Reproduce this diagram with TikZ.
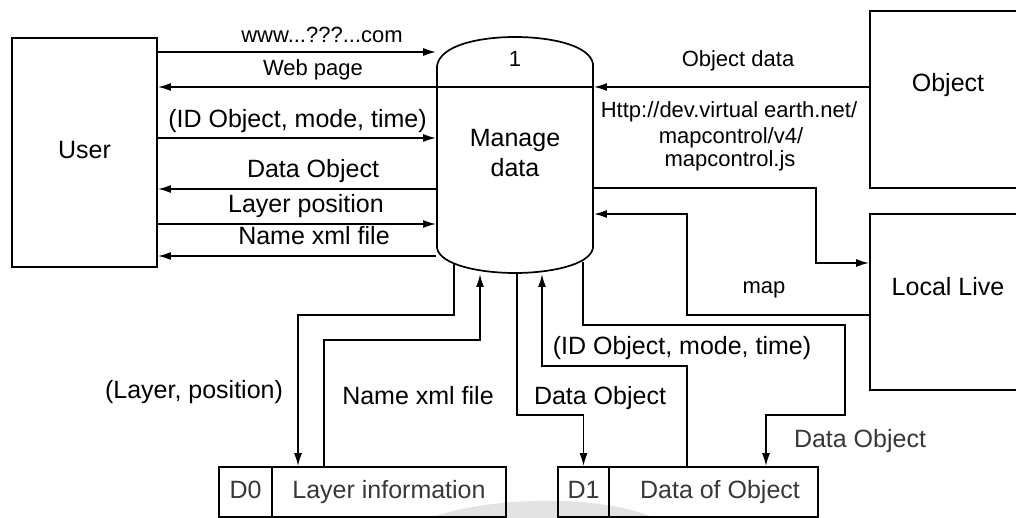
\documentclass[tikz,border=0pt]{standalone}
\usepackage{fontspec}
\setmainfont{Liberation Sans}
\usetikzlibrary{arrows.meta}
\begin{document}
\begin{tikzpicture}[x=1pt,y=-1pt,line width=1.7pt,
  >={Latex[length=13pt,width=8pt]},
  entity/.style={draw,inner sep=0pt},
  big/.style={font=\fontsize{25}{30}\selectfont},
  small/.style={font=\fontsize{22}{26}\selectfont},
  lbl/.style={inner sep=0pt,anchor=base},
  store/.style={text=black!78}]
\useasboundingbox (0,0) rectangle (1016,518);
\fill[white] (0,0) rectangle (1016,518);
% faint watermark arc
\fill[gray!22] (430,518) .. controls (490,496) and (600,494) .. (655,518) -- cycle;

% external entities
\node[entity,big,minimum width=145pt,minimum height=229pt,text height=18pt,text depth=6pt] (user) at (84.5,152.5) {User};
\node[entity,big,minimum width=156pt,minimum height=177pt,text height=18pt,text depth=33pt] (obj) at (948,99.5) {Object};
\node[entity,big,minimum width=156pt,minimum height=176pt,text height=18pt,text depth=32pt] (ll) at (948,302) {Local Live};

% process (cylinder)
\node[inner sep=0pt,minimum width=156pt,minimum height=236pt] (md) at (515,155) {};
\draw (437,248) -- (437,66) .. controls (440,45) and (480,37) .. (515,37)
  .. controls (550,37) and (590,45) .. (593,64) -- (593,248)
  .. controls (590,265) and (550,273) .. (515,273)
  .. controls (480,273) and (440,265) .. (437,248) -- cycle;
\draw (437,87) -- (593,87);
\node[small,lbl] (num) at (515,67) {1};
\node[big,lbl] (mdt1) at (515,147) {Manage};
\node[big,lbl] (mdt2) at (515,177) {data};

% data stores
\node[entity,big,store,minimum width=53pt,minimum height=50pt,text height=18pt,text depth=6pt] (d0id) at (245.5,492) {D0};
\node[entity,big,store,minimum width=234pt,minimum height=50pt,text height=18pt,text depth=6pt] (d0) at (389,492) {Layer information};
\node[entity,big,store,minimum width=51pt,minimum height=50pt,text height=18pt,text depth=6pt] (d1id) at (583.5,492) {D1};
\node[entity,big,store,minimum width=209pt,minimum height=50pt,text height=18pt,text depth=6pt] (d1) at (713.5,492) {\hspace*{13pt}Data of Object};

% rows on the left
\coordinate (r1) at (0,52);
\coordinate (r2) at (0,87);
\coordinate (r3) at (0,138);
\coordinate (r4) at (0,189);
\coordinate (r5) at (0,224);
\coordinate (r6) at (0,256);
\draw[->] (user.east |- r1) -- (md.west |- r1);
\draw[->] (md.west |- r2) -- (user.east |- r2);
\draw[->] (user.east |- r3) -- (md.west |- r3);
\draw[->] (md.west |- r4) -- (user.east |- r4);
\draw[->] (user.east |- r5) -- (md.west |- r5);
\draw[->] (md.west |- r6) -- (user.east |- r6);
\node[small,lbl] (l1) at (322,43) {www...???...com};
\node[small,lbl] (l2) at (313,76) {Web page};
\node[big,lbl] (l3) at (297.5,128) {(ID Object, mode, time)};
\node[big,lbl] (l4) at (313,178) {Data Object};
\node[big,lbl] (l5) at (306,213) {Layer position};
\node[big,lbl] (l6) at (314,245) {Name xml file};

% right side
\draw[->] (obj.west |- r2) -- (md.east |- r2);
\node[small,lbl] (l7) at (738,67) {Object data};
\coordinate (a1) at (816,188);
\coordinate (a2) at (816,263);
\draw[->] (md.east |- a1) -- (a1) -- (a2) -- (ll.west |- a2);
\node[small,lbl] (l8a) at (729,118) {Http://dev.virtual earth.net/};
\node[small,lbl] (l8b) at (731,144) {mapcontrol/v4/};
\node[small,lbl] (l8c) at (730,167) {mapcontrol.js};
\coordinate (m1) at (687,315);
\coordinate (m2) at (687,214);
\draw[->] (ll.west |- m1) -- (m1) -- (m2) -- (md.east |- m2);
\node[small,lbl] (l9) at (764,294) {map};

% bottom connections
\coordinate (cb1) at (454,264);
\coordinate (cb2) at (480,274);
\coordinate (cb3) at (517,273);
\coordinate (cb4) at (542,274);
\coordinate (cb5) at (583,262);
\coordinate (b1) at (454,315);
\coordinate (b2) at (298,315);
\draw[->] (cb1) -- (b1) -- (b2) -- (b2 |- d0.north);
\coordinate (n1) at (324,340);
\coordinate (n2) at (480,340);
\draw[->] (n1 |- d0.north) -- (n1) -- (n2) -- (cb2);
\coordinate (o1) at (517,415);
\coordinate (o2) at (583.5,415);
\draw[->] (cb3) -- (o1) -- (o2) -- (d1id.north);
\coordinate (i1) at (687,366);
\coordinate (i2) at (542,366);
\draw[->] (i1 |- d1.north) -- (i1) -- (i2) -- (cb4);
\coordinate (q1) at (583,325);
\coordinate (q2) at (845,325);
\coordinate (q3) at (845,415);
\coordinate (q4) at (766,415);
\draw[->] (cb5) -- (q1) -- (q2) -- (q3) -- (q4) -- (q4 |- d1.north);

\node[big,lbl] (l10) at (194,398) {(Layer, position)};
\node[big,lbl] (l11) at (418,404) {Name xml file};
\node[big,lbl] (l12) at (600,404) {Data Object};
\node[big,lbl] (l13) at (682,354) {(ID Object, mode, time)};
\node[big,lbl,store] (l14) at (860,447) {Data Object};
\end{tikzpicture}
\end{document}
